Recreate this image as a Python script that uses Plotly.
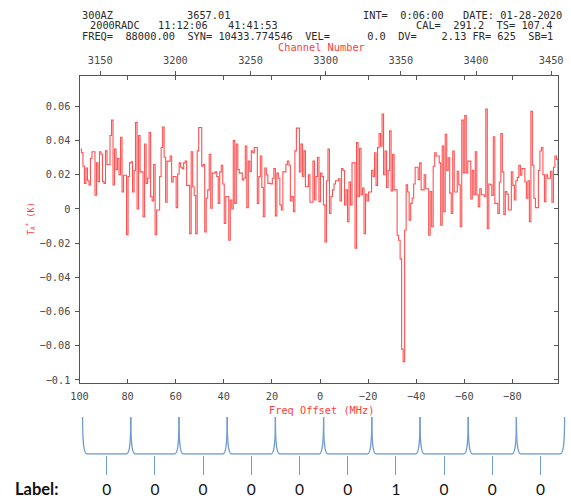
import plotly.graph_objects as go

W, H = 571, 498

# ---------------- data ----------------
FIRST_CHANNEL = 3137
REF_CHANNEL = 3296.2        # channel at 0 MHz offset
CHANNEL_MHZ = 0.625         # FR = 625 kHz

ta_part1 = [0.035, 0.033, 0.025, 0.015, 0.024, 0.0165, 0.014, 0.0295, 0.0335, 0.0335,
            0.008, 0.027, 0.016, 0.0335, 0.032, 0.016, 0.015, 0.034, 0.026, 0.026,
            0.043, 0.052, 0.014, 0.035, 0.023, 0.0295, 0.020, 0.042, 0.010, 0.0197,
            0.0197, -0.015, 0.019, 0.027, 0.0276, 0.010, 0.0225, 0.0506, 0.0, 0.043,
            0.0217, 0.0217, -0.0045, 0.038, 0.015, 0.018, 0.0447, 0.0073, 0.0047, 0.026,
            -0.015, -0.0006, -0.0006, 0.019, 0.036, 0.048, 0.0303, 0.0039, 0.028, 0.028,
            0.031, 0.0158, 0.019, 0.019, 0.0008, 0.0205, 0.027, 0.0244, 0.0236, 0.027,
            0.028, 0.0138, 0.0138, -0.0144, 0.0335, 0.013, 0.0079, -0.0144, 0.034, 0.0477,
            0.0477]
ta_part2 = [0.025, 0.026, -0.0134, 0.0063, 0.0112, 0.032, 0.0004, 0.021, 0.021, 0.0217,
            0.019, 0.0033, 0.0217, 0.0256, 0.0146, -0.0085, 0.0073, 0.0073, -0.0183, 0.0053,
            0.0, 0.040, 0.0033, 0.038, 0.023, 0.021, 0.021, 0.017, 0.018, 0.0368,
            0.0008, 0.028, 0.022, 0.034, 0.033, 0.036, 0.036, 0.0033, 0.019, 0.031,
            0.0126, -0.0045, 0.024, 0.020, 0.015, 0.015, 0.0146, 0.018, 0.0236, -0.004,
            0.021, 0.018, 0.0024, -0.0006, 0.0217, 0.0217, 0.026, 0.028, 0.0256, 0.0047,
            0.0073, -0.0016, 0.034, 0.0473, 0.0473, 0.0217, 0.038, 0.019, 0.034, 0.013,
            0.013, 0.020, 0.0039, 0.0039, 0.028, 0.0053, 0.019, 0.0303, 0.0043, 0.021]
ta_part3 = [0.019, 0.0024, -0.0193, 0.0165, 0.035, -0.0026, 0.0073, 0.0112, 0.0146, 0.0165,
            0.0165, 0.0177, 0.0047, 0.0236, 0.0225, 0.0024, 0.0112, -0.0075, 0.0158, 0.0024,
            0.027, 0.027, -0.0229, 0.0388, 0.0073, 0.0355, 0.0083, 0.0122, -0.0144, 0.0087,
            0.0047, 0.0099, 0.0099, 0.0225, 0.019, 0.0329, 0.0138, 0.0359, 0.0441, 0.0368,
            0.0556, 0.020, 0.0339, 0.0126, 0.0225, 0.0457, 0.0106, 0.0319, 0.0112, 0.0112,
            -0.0154, -0.0183, -0.0292, -0.082, -0.0893, -0.0124, 0.0142, 0.0099, -0.0065, 0.0033,
            0.0063, 0.0146, 0.0244, 0.0244, 0.0171, 0.027, 0.0112, 0.0112, 0.020, 0.0118,
            0.0118, -0.0154, 0.0102, -0.0104, 0.025, 0.0329, 0.031, 0.031, 0.027, -0.0095]
ta_part4 = [0.0368, -0.0016, 0.0437, 0.0225, 0.030, 0.0093, -0.0026, 0.0339, 0.0099, 0.0099,
            0.0221, 0.0142, -0.0104, 0.052, 0.0211, 0.0546, 0.0211, 0.028, 0.028, 0.0059,
            0.0225, 0.0083, 0.0335, 0.0083, 0.0014, 0.0118, 0.0083, 0.0083, 0.0073, 0.0585,
            -0.0114, 0.0146, 0.0142, 0.0079, 0.0422, 0.0033, 0.0033, -0.0026, 0.0158, 0.0441,
            0.0217, -0.0032, 0.0102, 0.0087, -0.0006, -0.0006, 0.0217, 0.0138, 0.0053, 0.0165,
            0.0185, 0.0256, 0.0197, 0.0236, 0.0236, 0.0158, 0.0063, 0.0165, -0.0075, 0.0571,
            0.0256, 0.0063, 0.0008, 0.0008, 0.0225, 0.0339, 0.0359, 0.020, 0.0043, 0.020,
            0.018, 0.018, 0.0221, 0.0039, 0.0244, 0.031, 0.029, 0.0197, 0.0165]

ta_star = ta_part1 + ta_part2 + ta_part3 + ta_part4
channels = [FIRST_CHANNEL + i for i in range(len(ta_star))]
freq_offset = [(REF_CHANNEL - c) * CHANNEL_MHZ for c in channels]

freq_ticks = [100, 80, 60, 40, 20, 0, -20, -40, -60, -80]
channel_ticks = [3150, 3200, 3250, 3300, 3350, 3400, 3450]
ta_ticks = [-0.1, -0.08, -0.06, -0.04, -0.02, 0, 0.02, 0.04, 0.06]

window_labels = [0, 0, 0, 0, 0, 0, 1, 0, 0, 0]
window_index = list(range(len(window_labels)))

header_tokens = [
    # (text, x_px, y_px)
    ("300AZ", 79.6, 15), ("3657.01", 185.4, 15), ("INT=  0:06:00", 360.6, 15),
    ("DATE: 01-28-2020", 460.6, 15),
    ("2000RADC", 87.6, 25.5), ("11:12:06", 156.2, 25.5), ("41:41:53", 225.5, 25.5),
    ("CAL=  291.2  TS= 107.4", 414.2, 25.5),
    ("FREQ=  88000.00  SYN= 10433.774546  VEL=      0.0  DV=    2.13 FR= 625  SB=1", 80.3, 35.5),
]

# ---------------- styling ----------------
RED = "#ff5252"
TITLE_RED = "#ff3b3b"
BLUE = "#6f9bd6"
FRAME = "#555555"
TICKTXT = "#4a4a4a"
MONO = "DejaVu Sans Mono"
FS = 10.3

F_LEFT, F_RIGHT = 100.0, -98.96
Y_LO, Y_HI = -0.1018, 0.0778
ch_range = [REF_CHANNEL - F_LEFT / CHANNEL_MHZ, REF_CHANNEL - F_RIGHT / CHANNEL_MHZ]


def px(x):
    return x / W


def py(y):
    return 1 - y / H


main_xdom = [px(79.5), px(558)]
main_ydom = [py(383), py(76)]

fig = go.Figure()
fig.add_trace(go.Scatter(x=freq_offset, y=ta_star, mode="lines",
                         line=dict(color=RED, width=1.1, shape="hvh"),
                         xaxis="x", yaxis="y", hoverinfo="skip", showlegend=False))
# invisible helpers so the overlay axes are drawn
fig.add_trace(go.Scatter(x=[channels[0]], y=[ta_star[0]], mode="markers",
                         marker=dict(opacity=0), xaxis="x2", yaxis="y",
                         hoverinfo="skip", showlegend=False))
fig.add_trace(go.Scatter(x=[freq_offset[0]], y=[ta_star[0]], mode="markers",
                         marker=dict(opacity=0), xaxis="x", yaxis="y2",
                         hoverinfo="skip", showlegend=False))
fig.add_trace(go.Scatter(x=window_index, y=[0] * len(window_index), mode="markers",
                         marker=dict(opacity=0), xaxis="x3", yaxis="y3",
                         hoverinfo="skip", showlegend=False))

tickfont = dict(family=MONO, size=FS, color=TICKTXT)

fig.update_layout(
    width=W, height=H, autosize=False,
    margin=dict(l=0, r=0, t=0, b=0),
    paper_bgcolor="white", plot_bgcolor="rgba(0,0,0,0)",
    showlegend=False,
    xaxis=dict(domain=main_xdom, anchor="y", range=[F_LEFT, F_RIGHT],
               tickvals=freq_ticks, ticks="inside", ticklen=4, tickcolor=FRAME,
               showline=True, linecolor=FRAME, linewidth=1, mirror="ticks",
               showgrid=False, zeroline=False, tickfont=tickfont, automargin=False,
               ticklabelstandoff=4),
    xaxis2=dict(overlaying="x", side="top", anchor="y", range=ch_range,
                tickvals=channel_ticks, ticks="outside", ticklen=4, tickcolor=FRAME,
                showline=False, showgrid=False, zeroline=False, tickfont=tickfont,
                automargin=False, ticklabelstandoff=3),
    yaxis=dict(domain=main_ydom, anchor="x", range=[Y_LO, Y_HI],
               tickvals=ta_ticks, ticks="outside", ticklen=4, tickcolor=FRAME,
               showline=True, linecolor=FRAME, linewidth=1, mirror=True,
               showgrid=False, zeroline=False, tickfont=tickfont, automargin=False,
               ticklabelstandoff=2),
    yaxis2=dict(overlaying="y", side="right", anchor="x", range=[Y_LO, Y_HI],
                tickvals=ta_ticks, ticks="inside", ticklen=4, tickcolor=FRAME,
                showticklabels=False, showline=False, showgrid=False,
                zeroline=False, automargin=False),
    xaxis3=dict(domain=[0, 1], anchor="y3", range=[(0 - 106.7) / 48.2, (W - 106.7) / 48.2],
                tickvals=window_index, ticktext=[str(v) for v in window_labels],
                ticks="outside", ticklen=19, tickcolor=BLUE, tickwidth=1.3,
                showline=False, showgrid=False, zeroline=False,
                tickfont=dict(family="Lato", size=15.5, color="#111111"),
                automargin=False, ticklabelstandoff=2),
    yaxis3=dict(domain=[py(454.74), py(415.15)], anchor="x3", range=[-0.02, 1.05],
                visible=False, showgrid=False, zeroline=False),
)

# filter-bank style window outline
shapes = []
for c in window_index:
    b0, b1 = c - 0.5, c + 0.5
    k, e = 0.025, 0.09
    path = (f"M {b0},1 C {b0},0.3 {b0 + k},0 {b0 + e},0 L {b1 - e},0 "
            f"C {b1 - k},0 {b1},0.3 {b1},1")
    shapes.append(dict(type="path", path=path, xref="x3", yref="y3",
                       line=dict(color=BLUE, width=1.3)))
fig.update_layout(shapes=shapes)

annotations = []
for text, x, y in header_tokens:
    annotations.append(dict(text=text.replace(" ", "&nbsp;"), x=px(x), y=py(y),
                            xref="paper", yref="paper", xanchor="left", yanchor="middle",
                            showarrow=False, font=dict(family=MONO, size=FS, color="#2a2a2a")))
annotations.append(dict(text="Channel&nbsp;Number", x=px(321.5), y=py(46.5), xref="paper", yref="paper",
                        xanchor="center", yanchor="middle", showarrow=False,
                        font=dict(family=MONO, size=FS, color=TITLE_RED)))
annotations.append(dict(text="Freq&nbsp;Offset&nbsp;(MHz)", x=px(321.3), y=py(410), xref="paper", yref="paper",
                        xanchor="center", yanchor="middle", showarrow=False,
                        font=dict(family=MONO, size=FS, color=TITLE_RED)))
annotations.append(dict(text="T<sub>A</sub><sup>*</sup> (K)", x=px(30), y=py(219), xref="paper", yref="paper",
                        xanchor="center", yanchor="middle", showarrow=False, textangle=-90,
                        font=dict(family=MONO, size=8.5, color=TITLE_RED)))
annotations.append(dict(text="<b>Label:</b>", x=px(12.7), y=py(488.5), xref="paper", yref="paper",
                        xanchor="left", yanchor="middle", showarrow=False,
                        font=dict(family="Lato", size=16.5, color="#111111")))
fig.update_layout(annotations=annotations)

fig.write_html("out.html", config={"displayModeBar": False},
               post_script="document.body.style.margin='0px';document.body.style.padding='0px';")
